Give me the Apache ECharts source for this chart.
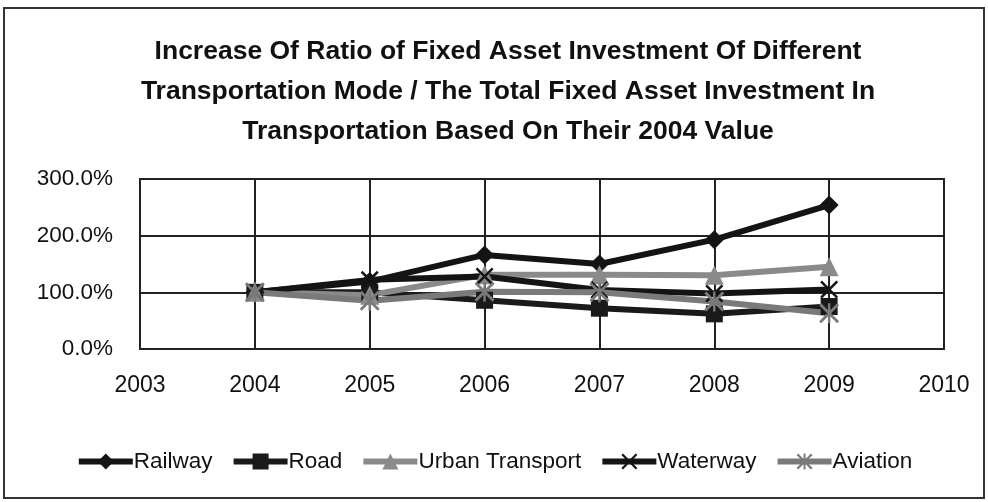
<!DOCTYPE html>
<html>
<head>
<meta charset="utf-8">
<script src="https://cdn.jsdelivr.net/npm/echarts@6/dist/echarts.min.js"></script>
<style>
html,body{margin:0;padding:0;background:#fff;}
#chart{width:988px;height:502px;}
</style>
</head>
<body>
<div id="chart"></div>
<script>
const years = [2004, 2005, 2006, 2007, 2008, 2009];
const railway   = [100, 119, 166, 150, 193, 254];
const road      = [100, 100, 86, 72, 62, 75];
const urban     = [100, 95, 131, 131, 130, 145];
const waterway  = [100, 122, 128, 104, 98, 105];
const aviation  = [100, 85, 101, 100, 84, 63];
const seriesNames = ['Railway', 'Road', 'Urban Transport', 'Waterway', 'Aviation'];
const titleText = 'Increase Of Ratio of Fixed Asset Investment Of Different\nTransportation Mode / The Total Fixed Asset Investment In\nTransportation Based On Their 2004 Value';

const FONT = "'Liberation Sans', sans-serif";
const xSym = 'path://M0,1 L1,0 L5,4 L9,0 L10,1 L6,5 L10,9 L9,10 L5,6 L1,10 L0,9 L4,5 Z';
const starSym = 'path://M4.4,0 L5.6,0 L5.6,10 L4.4,10 Z M0,1 L1,0 L5,4 L9,0 L10,1 L6,5 L10,9 L9,10 L5,6 L1,10 L0,9 L4,5 Z';

function pairs(arr){ return years.map((y,i)=>[y, arr[i]]); }

const defs = [
  {name: seriesNames[0], data: railway, color: '#141414', symbol: 'diamond', size: 19},
  {name: seriesNames[1], data: road, color: '#1a1a1a', symbol: 'rect', size: 17},
  {name: seriesNames[2], data: urban, color: '#8a8a8a', symbol: 'triangle', size: 19},
  {name: seriesNames[3], data: waterway, color: '#141414', symbol: xSym, size: 18},
  {name: seriesNames[4], data: aviation, color: '#7a7a7a', symbol: starSym, size: 20}
];

const chart = echarts.init(document.getElementById('chart'), null, {renderer: 'canvas'});
chart.setOption({
  backgroundColor: '#fff',
  animation: false,
  textStyle: {fontFamily: FONT},
  graphic: [{
    type: 'rect', silent: true,
    shape: {x: 4, y: 8, width: 980, height: 490},
    style: {fill: 'none', stroke: '#333', lineWidth: 2}
  }],
  title: {
    text: titleText,
    left: 503, top: 27,
    textAlign: 'center',
    textStyle: {fontFamily: FONT, fontWeight: 'bold', fontSize: 26.5, lineHeight: 40, color: '#111'}
  },
  grid: {left: 140, right: 44, top: 179, bottom: 153, show: true, borderColor: '#222', borderWidth: 2},
  xAxis: {
    type: 'value', min: 2003, max: 2010, interval: 1,
    axisLine: {show: false}, axisTick: {show: false},
    splitLine: {show: true, lineStyle: {color: '#222', width: 2}},
    axisLabel: {color: '#111', fontSize: 23, margin: 25, fontFamily: FONT, formatter: v => String(v)}
  },
  yAxis: {
    type: 'value', min: 0, max: 300, interval: 100,
    axisLine: {show: false}, axisTick: {show: false},
    splitLine: {show: true, lineStyle: {color: '#222', width: 2}},
    axisLabel: {color: '#111', fontSize: 22.5, margin: 27, fontFamily: FONT, formatter: v => v.toFixed(1) + '%'}
  },
  legend: {
    bottom: 24, left: 'center',
    itemWidth: 54, itemHeight: 20, itemGap: 18,
    lineStyle: {width: 6},
    textStyle: {fontSize: 22.5, color: '#111', fontFamily: FONT, padding: [0,0,0,-4]},
    data: seriesNames
  },
  series: defs.map(d => ({
    name: d.name, type: 'line', data: pairs(d.data),
    symbol: d.symbol, symbolSize: d.size, showAllSymbol: true,
    lineStyle: {color: d.color, width: 6},
    itemStyle: {color: d.color},
    z: 3
  }))
});
</script>
</body>
</html>
